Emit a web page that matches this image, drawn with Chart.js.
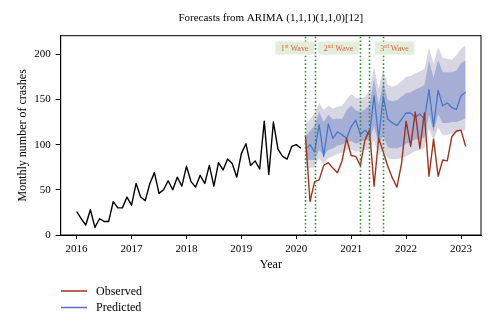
<!DOCTYPE html>
<html><head><meta charset="utf-8">
<script src="https://cdn.jsdelivr.net/npm/chart.js@4.4.1/dist/chart.umd.min.js"></script>
<style>html,body{margin:0;padding:0;background:#fff;} #wrap{width:500px;height:329px;position:relative;}</style>
</head><body><div id="wrap"><canvas id="c" width="500" height="329"></canvas></div>
<script>
// ---- data ----
const historyStart = '2016-01';
const forecastStart = '2020-03';
const historyValues = [26, 18, 11, 28, 8.5, 18, 15, 15, 37, 30, 30, 42,
  33, 57, 42, 38, 57, 69, 46, 50, 60, 50, 64, 54,
  76, 59, 53, 66, 57, 77, 54, 80, 72, 84, 79, 64,
  90, 101, 77, 82, 73, 126, 67, 125, 95, 87, 84, 98,
  100, 96];
const observedValues = [110, 37, 59, 61, 77, 80, 74, 69, 82, 107, 88, 87,
  77, 105, 116, 54, 107, 92, 76, 63, 53, 79, 126, 98,
  136, 96, 135, 65, 106, 65, 83, 82, 109, 115, 116, 98];
const predictedValues = [95, 100, 92, 122, 87, 123, 107, 114, 111, 107, 120, 127,
  111, 116, 111, 154, 107, 153, 128, 124, 121, 128, 135, 135,
  130, 134, 128, 161, 120, 160, 143, 146, 141, 139, 154, 158];
const upper95 = [123, 128, 134, 146, 138, 143, 140, 142, 143, 150, 156, 152,
  151, 153, 160, 186, 162, 182, 166, 164, 166, 170, 175, 176,
  179, 181, 184, 207, 190, 208, 196, 195, 194, 199, 206, 210];
const upper80 = [109, 115, 121, 136, 125, 133, 128, 129, 128, 138, 143, 138,
  136, 139, 143, 173, 144, 169, 149, 148, 149, 153, 157, 158,
  161, 163, 166, 193, 174, 194, 180, 180, 180, 182, 190, 193];
const lower80 = [84, 83, 83, 94, 88, 94, 96, 99, 100, 103, 104, 101,
  103, 105, 105, 120, 101, 110, 97, 96, 96, 98, 101, 103,
  106, 106, 108, 133, 114, 134, 124, 124, 125, 125, 127, 129];
const lower95 = [75, 74, 75, 85, 78, 85, 87, 90, 91, 94, 95, 92,
  93, 94, 95, 105, 88, 95, 85, 84, 84, 85, 87, 90,
  93, 94, 96, 118, 104, 119, 110, 111, 112, 113, 115, 116];
const xTickLabels = ['2016', '2017', '2018', '2019', '2020', '2021', '2022', '2023'];
const yTickValues = [0, 50, 100, 150, 200];
const waveLineDates = ['2020-03', '2020-05', '2021-03', '2021-05', '2021-08'];
const waveNames = [['1', 'st'], ['2', 'nd'], ['3', 'rd']];
const waveLabelCenters = [2019.97, 2020.77, 2021.79];

// ---- helpers ----
function ym(s) { const [y, m] = s.split('-').map(Number); return y + (m - 1) / 12; }
function series(start, vals) { const s = ym(start); return vals.map((v, i) => ({x: s + i / 12, y: v})); }

const SERIF = "'Liberation Serif', 'DejaVu Serif', serif";
const OBS_COLOR = '#a3321c';
const PRED_COLOR = '#4479c9';

const framePlugin = {
  id: 'frame',
  afterDraw(chart) {
    const {ctx, chartArea: a, scales: {x}} = chart;
    ctx.save();
    ctx.strokeStyle = '#000'; ctx.lineWidth = 1;
    ctx.strokeRect(a.left, a.top, a.right - a.left, a.bottom - a.top);
    // title
    ctx.fillStyle = '#000';
    ctx.font = '11px ' + SERIF;
    ctx.textAlign = 'center'; ctx.textBaseline = 'middle';
    ctx.fillText('Forecasts from ARIMA (1,1,1)(1,1,0)[12]', (a.left + a.right) / 2, 18);
    // legend
    const items = [chart.data.datasets[2], chart.data.datasets[3]];
    const ys = [291, 307.5];
    ctx.font = '12px ' + SERIF; ctx.textAlign = 'left';
    items.forEach((d, i) => {
      ctx.strokeStyle = d.legendColor || d.borderColor; ctx.lineWidth = 1.5;
      ctx.beginPath(); ctx.moveTo(61, ys[i]); ctx.lineTo(87, ys[i]); ctx.stroke();
      ctx.fillStyle = '#000';
      ctx.fillText(d.label, 96, ys[i] + 0.5);
    });
    ctx.restore();
  }
};

const wavePlugin = {
  id: 'waves',
  afterDatasetsDraw(chart) {
    const {ctx, chartArea: a, scales: {x}} = chart;
    ctx.save();
    ctx.strokeStyle = '#3a8a3a'; ctx.lineWidth = 1.6; ctx.setLineDash([1.6, 2.2]);
    waveLineDates.forEach(d => {
      const px = Math.round(x.getPixelForValue(ym(d))) + 0.5;
      ctx.beginPath(); ctx.moveTo(px, a.top + 1); ctx.lineTo(px, a.bottom); ctx.stroke();
    });
    ctx.setLineDash([]);
    waveNames.forEach((w, i) => {
      const cx = x.getPixelForValue(waveLabelCenters[i]);
      ctx.font = '8px ' + SERIF;
      const w1 = ctx.measureText(w[0]).width;
      const w3 = ctx.measureText(' Wave').width;
      ctx.font = '5.5px ' + SERIF;
      const w2 = ctx.measureText(w[1]).width;
      const tw = w1 + w2 + w3;
      const bw = tw + 11, bh = 13, top = 41.5;
      ctx.fillStyle = '#e2eedb';
      ctx.fillRect(cx - bw / 2, top, bw, bh);
      ctx.fillStyle = '#e8643c';
      let tx = cx - tw / 2;
      ctx.textAlign = 'left'; ctx.textBaseline = 'alphabetic';
      ctx.font = '8px ' + SERIF; ctx.fillText(w[0], tx, top + 9.8); tx += w1;
      ctx.font = '5.5px ' + SERIF; ctx.fillText(w[1], tx, top + 6.5); tx += w2;
      ctx.font = '8px ' + SERIF; ctx.fillText(' Wave', tx, top + 9.8);
    });
    ctx.restore();
  }
};

const lineBase = {pointRadius: 0, pointHoverRadius: 0, tension: 0, borderJoinStyle: 'round'};

new Chart(document.getElementById('c'), {
  type: 'line',
  data: {
    datasets: [
      Object.assign({label: 'History', data: series(historyStart, historyValues), borderColor: '#000', borderWidth: 1.4, fill: false, order: 0}, lineBase),
      Object.assign({label: 'Predicted line', data: series(forecastStart, predictedValues), borderColor: PRED_COLOR, borderWidth: 1.3, fill: false, order: 1}, lineBase),
      Object.assign({label: 'Observed', data: series(forecastStart, observedValues), borderColor: OBS_COLOR, borderWidth: 1.4, fill: false, order: 0}, lineBase),
      Object.assign({label: 'Predicted', data: [], borderColor: PRED_COLOR, legendColor: '#5a6cc8', borderWidth: 1.3, fill: false, order: 0}, lineBase),
      Object.assign({label: 'Upper 95', data: series(forecastStart, upper95), borderWidth: 0, borderColor: 'rgba(0,0,0,0)', backgroundColor: '#d6d7e3', fill: {target: 7}, order: 3}, lineBase),
      Object.assign({label: 'Upper 80', data: series(forecastStart, upper80), borderWidth: 0, borderColor: 'rgba(0,0,0,0)', backgroundColor: '#a7aed6', fill: {target: 6}, order: 2}, lineBase),
      Object.assign({label: 'Lower 80', data: series(forecastStart, lower80), borderWidth: 0, borderColor: 'rgba(0,0,0,0)', fill: false, order: 2}, lineBase),
      Object.assign({label: 'Lower 95', data: series(forecastStart, lower95), borderWidth: 0, borderColor: 'rgba(0,0,0,0)', fill: false, order: 3}, lineBase)
    ]
  },
  options: {
    responsive: false,
    animation: false,
    events: [],
    layout: {padding: {left: 0, right: 19, top: 35.7, bottom: 54}},
    plugins: {legend: {display: false}, tooltip: {enabled: false}, title: {display: false}},
    scales: {
      x: {
        type: 'linear', min: 2015.71, max: 2023.364,
        afterFit(s) { s.height = 40; },
        afterBuildTicks(s) { s.ticks = xTickLabels.map(v => ({value: Number(v)})); },
        ticks: {color: '#000', padding: 4, maxRotation: 0, autoSkip: false, font: {family: SERIF, size: 11, lineHeight: 1.2},
          callback: (v) => String(v)},
        grid: {drawOnChartArea: false, drawTicks: true, tickLength: 4, color: '#000', tickColor: '#000'},
        border: {display: true, color: '#000', width: 1},
        title: {display: true, text: 'Year', color: '#000', font: {family: SERIF, size: 12, lineHeight: 1.2}, padding: {top: 0, bottom: 2.8}}
      },
      y: {
        min: 0, max: 220.5,
        afterFit(s) { s.width = 60.7; },
        afterBuildTicks(s) { s.ticks = yTickValues.map(v => ({value: v})); },
        ticks: {color: '#000', padding: 5, font: {family: SERIF, size: 11, lineHeight: 1.2}, callback: (v) => String(v)},
        grid: {drawOnChartArea: false, drawTicks: true, tickLength: 5, color: '#000', tickColor: '#000'},
        border: {display: true, color: '#000', width: 1},
        title: {display: true, text: 'Monthly number of crashes', color: '#000', font: {family: SERIF, size: 12, lineHeight: 1.2}, padding: {top: 15.3, bottom: 0}}
      }
    }
  },
  plugins: [wavePlugin, framePlugin]
});
</script></body></html>
